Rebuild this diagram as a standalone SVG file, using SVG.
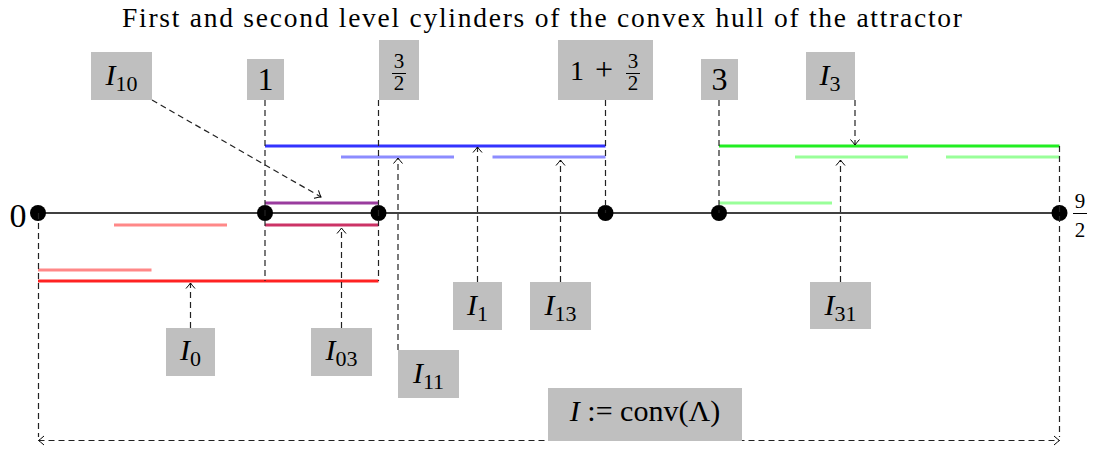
<svg xmlns="http://www.w3.org/2000/svg" width="1093" height="450" viewBox="0 0 1093 450">
<defs>
<style>
text{font-family:"Liberation Serif","DejaVu Serif",serif;fill:#000}
.lbl{font-size:30px;text-anchor:middle}
.num{font-size:32px;text-anchor:middle}
.it{font-style:italic}
.sub{font-size:22px;font-style:normal}
.fr{font-size:21px;text-anchor:middle}
.box{fill:#bfbfbf}
.dash{fill:none;stroke:#222;stroke-width:1.2;stroke-dasharray:6 4}
.seg{stroke-width:3;fill:none}
.bar{stroke:#000;stroke-width:1}
</style>
<marker id="tip" markerWidth="12" markerHeight="12" refX="0" refY="0" viewBox="-7 -6 8 12" orient="auto-start-reverse" markerUnits="userSpaceOnUse">
<path d="M -5.5 -4.5 Q -1.5 -1 0 0 Q -1.5 1 -5.5 4.5" fill="none" stroke="#000" stroke-width="1"/>
</marker>
</defs>
<rect width="1093" height="450" fill="#fff"/>
<text x="122" y="27" font-size="27.5" textLength="840" lengthAdjust="spacing">First and second level cylinders of the convex hull of the attractor</text>

<g id="axis">
<line x1="38" y1="213" x2="1059" y2="213" stroke="#000" stroke-width="1.5"/>
<circle cx="38" cy="213" r="8"/>
<circle cx="265" cy="213" r="8"/>
<circle cx="378.5" cy="213" r="8"/>
<circle cx="605.5" cy="213" r="8"/>
<circle cx="719" cy="213" r="8"/>
<circle cx="1059.5" cy="213" r="8"/>
<text x="18" y="227" font-size="34" text-anchor="middle">0</text>
<text class="fr" x="1080" y="208">9</text>
<line class="bar" x1="1073" y1="213.5" x2="1087" y2="213.5"/>
<text class="fr" x="1080" y="237">2</text>
</g>

<g id="segments">
<line class="seg" x1="265" y1="146" x2="605.5" y2="146" stroke="#3333ff"/>
<line class="seg" x1="341" y1="157" x2="454" y2="157" stroke="#8c8cff"/>
<line class="seg" x1="492.5" y1="157" x2="605.5" y2="157" stroke="#8c8cff"/>
<line class="seg" x1="265" y1="203" x2="378.5" y2="203" stroke="#9a3c9e"/>
<line class="seg" x1="265" y1="225" x2="378.5" y2="225" stroke="#cc3366"/>
<line class="seg" x1="114" y1="225" x2="227" y2="225" stroke="#ff8888"/>
<line class="seg" x1="38" y1="270" x2="151.5" y2="270" stroke="#ff8888"/>
<line class="seg" x1="38" y1="281" x2="378.5" y2="281" stroke="#ff2222"/>
<line class="seg" x1="719" y1="146" x2="1059.5" y2="146" stroke="#22ee22"/>
<line class="seg" x1="719" y1="203" x2="832" y2="203" stroke="#99ff99"/>
<line class="seg" x1="795" y1="157" x2="908" y2="157" stroke="#99ff99"/>
<line class="seg" x1="946" y1="157" x2="1059.5" y2="157" stroke="#99ff99"/>
</g>

<g id="connectors">
<line class="dash" x1="265" y1="100" x2="265" y2="281"/>
<line class="dash" x1="378.5" y1="100" x2="378.5" y2="281"/>
<line class="dash" x1="605.5" y1="100" x2="605.5" y2="213"/>
<line class="dash" x1="719" y1="100" x2="719" y2="213"/>
<line class="dash" x1="1059.5" y1="146" x2="1059.5" y2="437"/>
<line class="dash" x1="38.5" y1="213" x2="38.5" y2="437"/>
<path class="dash" d="M 38.5 440.5 L 1059.5 440.5" marker-start="url(#tip)" marker-end="url(#tip)"/>
<path class="dash" d="M 152 100 L 321 197" marker-end="url(#tip)"/>
<path class="dash" d="M 190.5 328 L 190.5 283" marker-end="url(#tip)"/>
<path class="dash" d="M 341.5 328 L 341.5 228" marker-end="url(#tip)"/>
<path class="dash" d="M 398 350 L 398 158" marker-end="url(#tip)"/>
<path class="dash" d="M 477.5 282 L 477.5 147" marker-end="url(#tip)"/>
<path class="dash" d="M 560.5 282 L 560.5 160" marker-end="url(#tip)"/>
<path class="dash" d="M 840.5 282 L 840.5 160" marker-end="url(#tip)"/>
<path class="dash" d="M 855 100 L 855 145" marker-end="url(#tip)"/>
</g>

<g id="node-I10"><rect class="box" x="91" y="52" width="61" height="48"/><text class="lbl" x="121.5" y="85"><tspan class="it">I</tspan><tspan class="sub" dy="6">10</tspan></text></g>
<g id="node-1"><rect class="box" x="247" y="59" width="37" height="41"/><text class="num" x="265.5" y="90">1</text></g>
<g id="node-3half"><rect class="box" x="379" y="40" width="40" height="60"/><text class="fr" x="399" y="68">3</text><line class="bar" x1="392" y1="73.5" x2="406" y2="73.5"/><text class="fr" x="399" y="90">2</text></g>
<g id="node-1plus3half"><rect class="box" x="558" y="40" width="95" height="60"/><text x="577" y="80" font-size="28" text-anchor="middle">1</text><text x="604" y="80" font-size="32" text-anchor="middle">+</text><text class="fr" x="633" y="68">3</text><line class="bar" x1="626" y1="73.5" x2="640" y2="73.5"/><text class="fr" x="633" y="90">2</text></g>
<g id="node-3"><rect class="box" x="701" y="59" width="37" height="41"/><text class="num" x="719.5" y="90">3</text></g>
<g id="node-I3"><rect class="box" x="806" y="52" width="49" height="48"/><text class="lbl" x="830" y="85"><tspan class="it">I</tspan><tspan class="sub" dy="6">3</tspan></text></g>
<g id="node-I0"><rect class="box" x="166" y="328" width="49" height="48"/><text class="lbl" x="190.5" y="360"><tspan class="it">I</tspan><tspan class="sub" dy="6">0</tspan></text></g>
<g id="node-I03"><rect class="box" x="311" y="328" width="61" height="48"/><text class="lbl" x="341.5" y="360"><tspan class="it">I</tspan><tspan class="sub" dy="6">03</tspan></text></g>
<g id="node-I11"><rect class="box" x="398" y="350" width="61" height="48"/><text class="lbl" x="428.5" y="383"><tspan class="it">I</tspan><tspan class="sub" dy="6">11</tspan></text></g>
<g id="node-I1"><rect class="box" x="453" y="282" width="49" height="48"/><text class="lbl" x="477.5" y="315"><tspan class="it">I</tspan><tspan class="sub" dy="6">1</tspan></text></g>
<g id="node-I13"><rect class="box" x="530" y="282" width="61" height="48"/><text class="lbl" x="560.5" y="315"><tspan class="it">I</tspan><tspan class="sub" dy="6">13</tspan></text></g>
<g id="node-I31"><rect class="box" x="810" y="282" width="61" height="47"/><text class="lbl" x="840.5" y="315"><tspan class="it">I</tspan><tspan class="sub" dy="6">31</tspan></text></g>
<g id="node-conv"><rect class="box" x="548" y="388" width="194" height="53"/><text class="lbl" x="645" y="421"><tspan class="it">I</tspan> := conv(Λ)</text></g>
</svg>
